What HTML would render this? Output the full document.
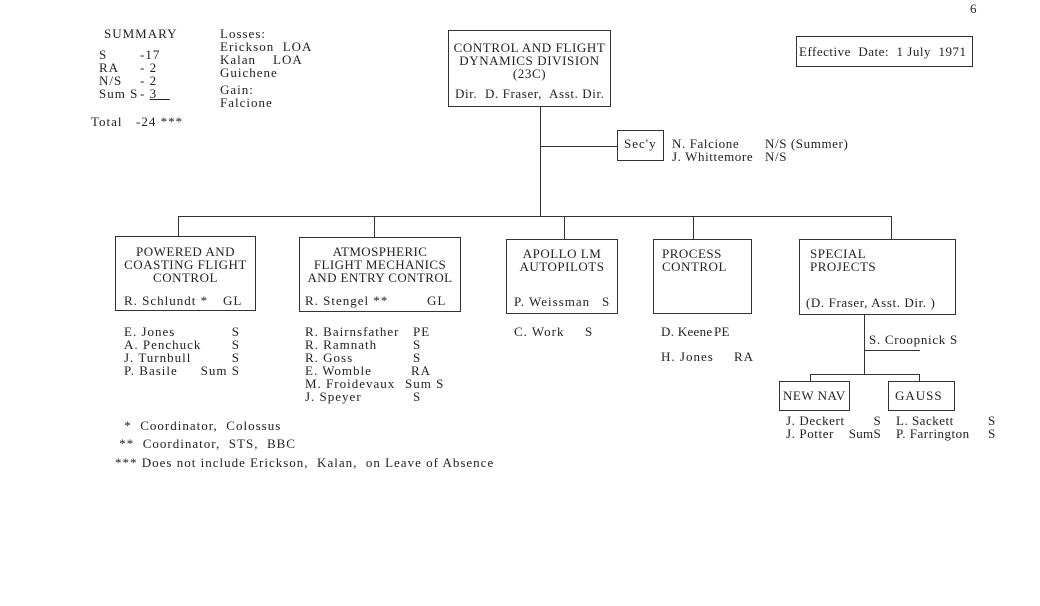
<!DOCTYPE html>
<html><head><meta charset="utf-8"><style>
body{margin:0;width:1040px;height:606px;background:#fff;position:relative;overflow:hidden;font-family:"Liberation Serif",serif;font-size:13px;letter-spacing:1px;color:#222;}
.t{position:absolute;white-space:pre;line-height:13px;}
.r{position:absolute;white-space:pre;line-height:13px;text-align:right;}
.b{position:absolute;border:1.5px solid #333;box-sizing:border-box;}
.h{position:absolute;height:0;border-top:1.5px solid #333;}
.v{position:absolute;width:0;border-left:1.5px solid #333;}
</style></head><body>
<div class="t" style="left:970px;top:2px">6</div>
<div class="t" style="left:104px;top:27px">SUMMARY</div>
<div class="t" style="left:99px;top:48px">S
RA
N/S
Sum S</div>
<div class="t" style="left:140px;top:48px">-17
- 2
- 2
- <u>3   </u></div>
<div class="t" style="left:91px;top:115px">Total</div>
<div class="t" style="left:136px;top:115px">-24 ***</div>
<div class="t" style="left:220px;top:27px">Losses:
Erickson  LOA
Kalan    LOA
Guichene</div>
<div class="t" style="left:220px;top:83px">Gain:
Falcione</div>

<div class="b" style="left:448px;top:30px;width:163px;height:77px"></div>
<div class="t" style="left:448px;top:41px;width:163px;text-align:center;letter-spacing:0.6px">CONTROL AND FLIGHT
DYNAMICS DIVISION
(23C)</div>
<div class="t" style="left:455px;top:87px;letter-spacing:0.6px">Dir.  D. Fraser,  Asst. Dir.</div>

<div class="b" style="left:796px;top:36px;width:177px;height:31px"></div>
<div class="t" style="left:799px;top:45px;letter-spacing:0.5px">Effective  Date:  1 July  1971</div>

<div class="v" style="left:540px;top:106px;height:111px"></div>
<div class="h" style="left:540px;top:146px;width:77px"></div>
<div class="b" style="left:617px;top:130px;width:47px;height:31px"></div>
<div class="t" style="left:624px;top:137px">Sec'y</div>
<div class="t" style="left:672px;top:137px;letter-spacing:0.6px">N. Falcione
J. Whittemore</div>
<div class="t" style="left:765px;top:137px;letter-spacing:0.6px">N/S (Summer)
N/S</div>

<div class="h" style="left:178px;top:216px;width:714px"></div>
<div class="v" style="left:178px;top:216px;height:20px"></div>
<div class="v" style="left:374px;top:216px;height:21px"></div>
<div class="v" style="left:564px;top:216px;height:23px"></div>
<div class="v" style="left:693px;top:216px;height:23px"></div>
<div class="v" style="left:891px;top:216px;height:23px"></div>

<div class="b" style="left:115px;top:236px;width:141px;height:75px"></div>
<div class="t" style="left:115px;top:245px;width:141px;text-align:center;letter-spacing:0.5px">POWERED AND
COASTING FLIGHT
CONTROL</div>
<div class="t" style="left:124px;top:294px">R. Schlundt *</div>
<div class="t" style="left:223px;top:294px">GL</div>

<div class="b" style="left:299px;top:237px;width:162px;height:75px"></div>
<div class="t" style="left:299px;top:245px;width:162px;text-align:center;letter-spacing:0.4px">ATMOSPHERIC
FLIGHT MECHANICS
AND ENTRY CONTROL</div>
<div class="t" style="left:305px;top:294px">R. Stengel **</div>
<div class="t" style="left:427px;top:294px">GL</div>

<div class="b" style="left:506px;top:239px;width:112px;height:75px"></div>
<div class="t" style="left:506px;top:247px;width:112px;text-align:center;letter-spacing:0.5px">APOLLO LM
AUTOPILOTS</div>
<div class="t" style="left:514px;top:295px">P. Weissman</div>
<div class="t" style="left:602px;top:295px">S</div>

<div class="b" style="left:653px;top:239px;width:99px;height:75px"></div>
<div class="t" style="left:662px;top:247px;letter-spacing:0.5px">PROCESS
CONTROL</div>

<div class="b" style="left:799px;top:239px;width:157px;height:76px"></div>
<div class="t" style="left:810px;top:247px;letter-spacing:0.5px">SPECIAL
PROJECTS</div>
<div class="t" style="left:806px;top:296px;letter-spacing:0.6px">(D. Fraser, Asst. Dir. )</div>

<div class="t" style="left:124px;top:325px">E. Jones
A. Penchuck
J. Turnbull
P. Basile</div>
<div class="r" style="left:180px;top:325px;width:60px">S
S
S
Sum S</div>
<div class="t" style="left:305px;top:325px">R. Bairnsfather
R. Ramnath
R. Goss
E. Womble
M. Froidevaux
J. Speyer</div>
<div class="t" style="left:413px;top:325px">PE</div>
<div class="t" style="left:413px;top:338px">S
S</div>
<div class="t" style="left:411px;top:364px">RA</div>
<div class="t" style="left:405px;top:377px">Sum S</div>
<div class="t" style="left:413px;top:390px">S</div>
<div class="t" style="left:514px;top:325px">C. Work</div>
<div class="t" style="left:585px;top:325px">S</div>
<div class="t" style="left:661px;top:325px;letter-spacing:0.3px">D. Keene</div>
<div class="t" style="left:714px;top:325px;letter-spacing:0.3px">PE</div>
<div class="t" style="left:661px;top:350px">H. Jones</div>
<div class="t" style="left:734px;top:350px">RA</div>

<div class="v" style="left:864px;top:314px;height:61px"></div>
<div class="h" style="left:864px;top:350px;width:56px"></div>
<div class="t" style="left:869px;top:333px;letter-spacing:0.7px">S. Croopnick S</div>
<div class="h" style="left:810px;top:374px;width:110px"></div>
<div class="v" style="left:810px;top:374px;height:8px"></div>
<div class="v" style="left:919px;top:374px;height:8px"></div>
<div class="b" style="left:779px;top:381px;width:71px;height:30px"></div>
<div class="t" style="left:783px;top:389px;letter-spacing:0.5px">NEW NAV</div>
<div class="b" style="left:888px;top:381px;width:67px;height:30px"></div>
<div class="t" style="left:895px;top:389px">GAUSS</div>
<div class="t" style="left:786px;top:414px;letter-spacing:0.6px">J. Deckert
J. Potter</div>
<div class="r" style="left:830px;top:414px;width:51px;letter-spacing:0.3px">S
SumS</div>
<div class="t" style="left:896px;top:414px;letter-spacing:0.5px">L. Sackett
P. Farrington</div>
<div class="t" style="left:988px;top:414px">S
S</div>

<div class="t" style="left:120px;top:419px"> *  Coordinator,  Colossus</div>
<div class="t" style="left:115px;top:437px"> **  Coordinator,  STS,  BBC</div>
<div class="t" style="left:115px;top:456px">*** Does not include Erickson,  Kalan,  on Leave of Absence</div>
</body></html>
